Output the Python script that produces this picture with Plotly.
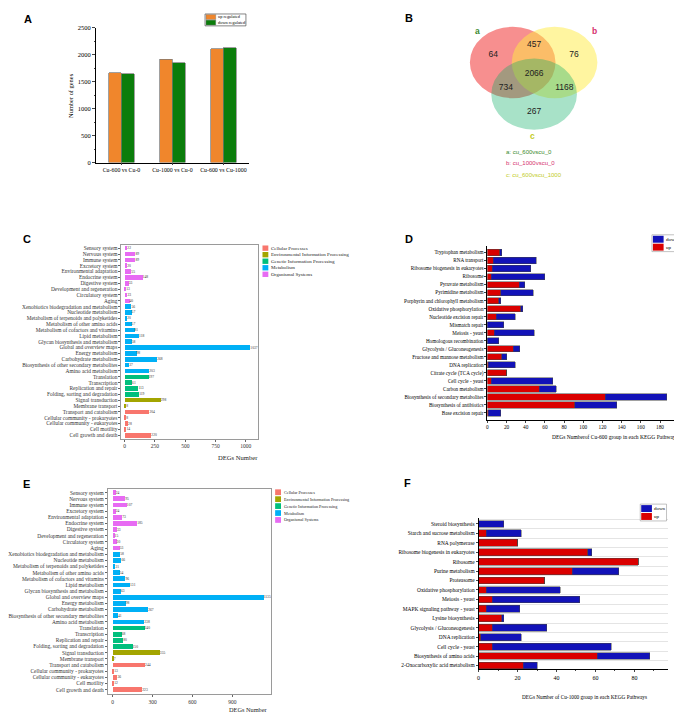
import plotly.graph_objects as go

W, H = 682, 712
def fx(p): return p / W
def fy(p): return 1 - p / H

SERIF = "Liberation Serif"
SANS = "Liberation Sans"

# ---------------- DATA ----------------
A_categories = ["Cu-600 vs Cu-0", "Cu-1000 vs Cu-0", "Cu-600 vs Cu-1000"]
A_up = [1670, 1920, 2110]
A_down = [1650, 1850, 2130]

venn_set_labels = ["a", "b", "c"]
venn_set_names = ["cu_600vscu_0", "cu_1000vscu_0", "cu_600vscu_1000"]
venn_regions = ["a", "ab", "b", "abc", "ac", "bc", "c"]
venn_counts = [64, 457, 76, 2066, 734, 1168, 267]

ko_categories = [
    "Sensory system", "Nervous system", "Immune system", "Excretory system",
    "Environmental adaptation", "Endocrine system", "Digestive system",
    "Development and regeneration", "Circulatory system", "Aging",
    "Xenobiotics biodegradation and metabolism", "Nucleotide metabolism",
    "Metabolism of terpenoids and polyketides", "Metabolism of other amino acids",
    "Metabolism of cofactors and vitamins", "Lipid metabolism",
    "Glycan biosynthesis and metabolism", "Global and overview maps",
    "Energy metabolism", "Carbohydrate metabolism",
    "Biosynthesis of other secondary metabolites", "Amino acid metabolism",
    "Translation", "Transcription", "Replication and repair",
    "Folding, sorting and degradation", "Signal transduction",
    "Membrane transport", "Transport and catabolism",
    "Cellular community - prokaryotes", "Cellular community - eukaryotes",
    "Cell motility", "Cell growth and death",
]
ko_groups = (["Organismal Systems"] * 10 + ["Metabolism"] * 12 +
             ["Genetic Information Processing"] * 4 +
             ["Environmental Information Processing"] * 2 +
             ["Cellular Processes"] * 5)
C_values = [22, 89, 89, 20, 55, 148, 33, 13, 23, 40, 56, 57, 20, 57, 81, 118, 58,
            1037, 98, 268, 37, 203, 197, 61, 113, 119, 298, 8, 204, 8, 28, 14, 220]
E_values = [24, 95, 107, 24, 73, 185, 33, 15, 30, 53, 58, 66, 21, 54, 96, 131, 63,
            1135, 98, 267, 41, 238, 240, 68, 80, 150, 355, 7, 244, 13, 36, 12, 223]
legend_groups = ["Cellular Processes", "Environmental Information Processing",
                 "Genetic Information Processing", "Metabolism", "Organismal Systems"]

D_pathways = [
    "Tryptophan metabolism", "RNA transport", "Ribosome biogenesis in eukaryotes",
    "Ribosome", "Pyruvate metabolism", "Pyrimidine metabolism",
    "Porphyrin and chlorophyll metabolism", "Oxidative phosphorylation",
    "Nucleotide excision repair", "Mismatch repair", "Meiosis - yeast",
    "Homologous recombination", "Glycolysis / Gluconeogenesis",
    "Fructose and mannose metabolism", "DNA replication",
    "Citrate cycle (TCA cycle)", "Cell cycle - yeast", "Carbon metabolism",
    "Biosynthesis of secondary metabolites", "Biosynthesis of antibiotics",
    "Base excision repair",
]
D_up = [13, 6, 5, 4, 33, 14, 12, 35, 9, 0, 7, 0, 27, 15, 1, 20, 4, 54, 123, 91, 1]
D_down = [2, 45, 40, 56, 6, 34, 2, 2, 20, 17, 42, 12, 7, 5, 28, 0, 64, 18, 64, 44, 13]

F_pathways = [
    "Steroid biosynthesis", "Starch and sucrose metabolism", "RNA polymerase",
    "Ribosome biogenesis in eukaryotes", "Ribosome", "Purine metabolism",
    "Proteasome", "Oxidative phosphorylation", "Meiosis - yeast",
    "MAPK signaling pathway - yeast", "Lysine biosynthesis",
    "Glycolysis / Gluconeogenesis", "DNA replication", "Cell cycle - yeast",
    "Biosynthesis of amino acids", "2-Oxocarboxylic acid metabolism",
]
F_up = [0, 4, 20, 56, 82, 48, 34, 4, 7, 4, 12, 7, 1, 7, 61, 23]
F_down = [13, 18, 0, 2, 0, 24, 0, 38, 45, 17, 1, 28, 21, 61, 27, 7]

# ---------------- STYLE ----------------
group_colors = {
    "Cellular Processes": "#F8766D",
    "Environmental Information Processing": "#A3A500",
    "Genetic Information Processing": "#00BF7D",
    "Metabolism": "#00B0F6",
    "Organismal Systems": "#E76BF3",
}
ORANGE, GREEN = "#F0862C", "#0B7D0B"
RED, BLUE = "#DA0000", "#1212B8"

fig = go.Figure()
shapes, annos = [], []

def ann(x, y, text, size, color="black", family=SERIF, xanchor="center", yanchor="middle", angle=0, bold=False):
    annos.append(dict(x=fx(x), y=fy(y), xref="paper", yref="paper", text=("<b>%s</b>" % text) if bold else text,
                      showarrow=False, xanchor=xanchor, yanchor=yanchor, textangle=angle,
                      font=dict(size=size, color=color, family=family), borderpad=0))

def rect(x0, y0, x1, y1, fill, line="rgba(0,0,0,0)", lw=0):
    shapes.append(dict(type="rect", xref="paper", yref="paper", x0=fx(x0), x1=fx(x1), y0=fy(y1), y1=fy(y0),
                       fillcolor=fill, line=dict(color=line, width=lw)))

# ---------------- PANEL A ----------------
idx = list(range(len(A_categories)))
fig.add_trace(go.Bar(x=[i - 0.125 for i in idx], y=A_up, width=0.25, xaxis="x", yaxis="y",
                     marker=dict(color=ORANGE, line=dict(color="#777", width=0.7)), showlegend=False))
fig.add_trace(go.Bar(x=[i + 0.125 for i in idx], y=A_down, width=0.25, xaxis="x", yaxis="y",
                     marker=dict(color=GREEN, line=dict(color="#777", width=0.7)), showlegend=False))
ann(6, 7, "A", 11, family=SANS, bold=True)
ann(49, 84, "Number of genes", 6.4, angle=-90)
rect(188, 2, 230, 14, "white", "#333", 0.6)
rect(189, 2.6, 199, 7.6, ORANGE, "#777", 0.4)
rect(189, 8.2, 199, 13.2, GREEN, "#777", 0.4)
ann(200.5, 5, "up regulated", 4.4, xanchor="left")
ann(200.5, 10.7, "down regulated", 4.4, xanchor="left")

# ---------------- PANEL B (Venn) ----------------
venn_geom = {"a": (504, 51), "b": (547, 51), "c": (526, 83)}
venn_fill = {"a": "rgba(239,31,31,0.5)", "b": "rgba(255,235,65,0.5)", "c": "rgba(6,172,98,0.35)"}
RX, RY = 44, 36
for s in venn_set_labels:
    cx, cy = venn_geom[s]
    shapes.append(dict(type="circle", xref="x2", yref="y2", x0=cx - RX, x1=cx + RX, y0=cy - RY, y1=cy + RY,
                       fillcolor=venn_fill[s], line=dict(width=0), layer="below"))
region_pos = {"a": (484, 43), "ab": (526, 33), "b": (567, 43), "abc": (526, 62),
              "ac": (497, 77), "bc": (557, 77), "c": (526, 101)}
fig.add_trace(go.Scatter(x=[region_pos[r][0] for r in venn_regions], y=[region_pos[r][1] for r in venn_regions],
                         text=[str(v) for v in venn_counts], mode="text", xaxis="x2", yaxis="y2",
                         textfont=dict(size=8.5, family=SANS, color="#222"), showlegend=False, hoverinfo="skip"))
set_colors = {"a": "#3A8A2E", "b": "#D6306E", "c": "#C2CC28"}
label_pos = {"a": (468, 19), "b": (588, 19), "c": (524, 125)}
for s in venn_set_labels:
    ann(label_pos[s][0], label_pos[s][1], s, 8.5, set_colors[s], SANS, bold=True)
for k, (s, n) in enumerate(zip(venn_set_labels, venn_set_names)):
    ann(496, 141 + k * 11.8, "%s: %s" % (s, n), 6, set_colors[s], SANS, xanchor="left")
ann(397, 6, "B", 11, family=SANS, bold=True)

# ---------------- PANELS C / E ----------------
ko_idx = list(range(len(ko_categories)))
for vals, xa, ya in [(C_values, "x3", "y3"), (E_values, "x5", "y5")]:
    fig.add_trace(go.Bar(x=vals, y=ko_idx, orientation="h", width=0.78, xaxis=xa, yaxis=ya,
                         marker=dict(color=[group_colors[g] for g in ko_groups], line=dict(width=0)),
                         text=[str(v) for v in vals], textposition="outside", cliponaxis=False,
                         constraintext="none", textfont=dict(size=3.6, color="#333", family=SERIF),
                         showlegend=False))
ann(5, 229, "C", 11, family=SANS, bold=True)
ann(5, 477, "E", 11, family=SANS, bold=True)
ann(243, 450, "DEGs Number", 6.6, "#222", xanchor="right")
ann(254, 704, "DEGs Number", 6.3, "#222", xanchor="right")
for k, g in enumerate(legend_groups):
    yc = 238.5 + k * 6.6
    rect(247, yc - 2.7, 253, yc + 2.7, group_colors[g])
    ann(255, yc, g, 5, "#222", xanchor="left")
    yc = 485 + k * 7.0
    rect(260, yc - 2.9, 266, yc + 2.9, group_colors[g])
    ann(268, yc, g, 4.2, "#222", xanchor="left")

# ---------------- PANELS D / F ----------------
D_idx = list(range(len(D_pathways)))
F_idx = list(range(len(F_pathways)))
for up, down, yi, xa, ya, w in [(D_up, D_down, D_idx, "x4", "y4", 0.78), (F_up, F_down, F_idx, "x6", "y6", 0.72)]:
    fig.add_trace(go.Bar(x=up, y=yi, orientation="h", width=w, xaxis=xa, yaxis=ya,
                         marker=dict(color=RED, line=dict(color="#444", width=0.5)), showlegend=False))
    fig.add_trace(go.Bar(x=down, y=yi, orientation="h", width=w, xaxis=xa, yaxis=ya,
                         marker=dict(color=BLUE, line=dict(color="#444", width=0.5)), showlegend=False))
ann(397, 229, "D", 11, family=SANS, bold=True)
ann(396, 476, "F", 11, family=SANS, bold=True)
ann(609, 429, "DEGs Numberof Cu-600 group in each KEGG Pathways", 5.5, xanchor="center")
ann(578, 692, "DEGs Number of Cu-1000 group in each KEGG Pathways", 5.3, xanchor="center")
for (x0, y0) in [(647, 225), (635, 497)]:
    rect(x0, y0, x0 + 27, y0 + 17, "white", "#999", 0.6)
    rect(x0 + 1, y0 + 1, x0 + 12, y0 + 8, BLUE)
    rect(x0 + 1, y0 + 9, x0 + 12, y0 + 16, RED)
    ann(x0 + 13.5, y0 + 4.5, "down", 5, xanchor="left")
    ann(x0 + 13.5, y0 + 12.5, "up", 5, xanchor="left")

# ---------------- AXES ----------------
tf = lambda s, c="black": dict(size=s, family=SERIF, color=c)
base_ax = dict(showgrid=False, zeroline=False, fixedrange=True)

layout_axes = dict(
    xaxis=dict(base_ax, domain=[fx(76), fx(233)], anchor="y", range=[-0.5, 2.5], tickvals=idx,
               ticktext=A_categories, showline=True, linecolor="black", linewidth=0.8,
               ticks="outside", ticklen=2, tickfont=tf(5.9)),
    yaxis=dict(base_ax, domain=[fy(152), fy(16)], anchor="x", range=[0, 2500], dtick=500,
               showline=True, linecolor="black", linewidth=0.8, ticks="outside", ticklen=3,
               minor=dict(dtick=250, ticks="outside", ticklen=1.5), tickfont=tf(6.5)),
    xaxis2=dict(base_ax, domain=[fx(341), 1], anchor="y2", range=[341, 682], visible=False),
    yaxis2=dict(base_ax, domain=[fy(180), 1], anchor="x2", range=[180, 0], visible=False),
    xaxis3=dict(base_ax, domain=[fx(102), fx(242)], anchor="y3", range=[-28, 1097],
                tickvals=[0, 250, 500, 750, 1000], showline=True, mirror=True, linecolor="#9a9a9a",
                linewidth=0.7, ticks="outside", ticklen=2, tickcolor="#666", tickfont=tf(5.5, "#333")),
    yaxis3=dict(base_ax, domain=[fy(431), fy(235)], anchor="x3", range=[32.6, -0.6], tickvals=ko_idx,
                ticktext=ko_categories, showline=True, mirror=True, linecolor="#9a9a9a", linewidth=0.7,
                ticks="outside", ticklen=2, tickcolor="#666", tickfont=tf(5.4, "#333")),
    xaxis5=dict(base_ax, domain=[fx(88), fx(256)], anchor="y5", range=[-37, 1192],
                tickvals=[0, 300, 600, 900], showline=True, mirror=True, linecolor="#9a9a9a",
                linewidth=0.7, ticks="outside", ticklen=2, tickcolor="#666", tickfont=tf(5.5, "#333")),
    yaxis5=dict(base_ax, domain=[fy(689), fy(482)], anchor="x5", range=[32.75, -0.55], tickvals=ko_idx,
                ticktext=ko_categories, showline=True, mirror=True, linecolor="#9a9a9a", linewidth=0.7,
                ticks="outside", ticklen=2, tickcolor="#666", tickfont=tf(5.4, "#333")),
    xaxis4=dict(base_ax, domain=[fx(478), fx(675)], anchor="y4", range=[0, 200], dtick=20,
                showline=True, linecolor="black", linewidth=0.8, ticks="outside", ticklen=2,
                tickfont=tf(5.3)),
    yaxis4=dict(base_ax, domain=[fy(412), fy(236)], anchor="x4", range=[20.87, -0.86], tickvals=D_idx,
                ticktext=D_pathways, showline=True, linecolor="black", linewidth=0.8, ticks="outside",
                ticklen=2, tickfont=tf(5.15)),
    xaxis6=dict(base_ax, domain=[fx(469), fx(663)], anchor="y6", range=[0, 97], dtick=20,
                showline=True, linecolor="black", linewidth=0.8, ticks="outside", ticklen=2,
                minor=dict(dtick=10, ticks="outside", ticklen=1), tickfont=tf(6)),
    yaxis6=dict(base_ax, domain=[fy(664), fy(511)], anchor="x6", range=[15.42, -0.63], tickvals=F_idx,
                ticktext=F_pathways, showline=True, linecolor="black", linewidth=0.8, ticks="outside",
                ticklen=2, tickfont=tf(5.4),
                minor=dict(tickvals=[i + 0.5 for i in F_idx] + [-0.5], showgrid=True,
                           gridcolor="#e4e4e4", gridwidth=0.6, ticks="")),
)

fig.update_layout(
    width=W, height=H, margin=dict(l=0, r=0, t=0, b=0), autosize=False,
    paper_bgcolor="white", plot_bgcolor="white", barmode="stack",
    showlegend=False, shapes=shapes, annotations=annos, **layout_axes,
)

fig.write_html("out.html")
